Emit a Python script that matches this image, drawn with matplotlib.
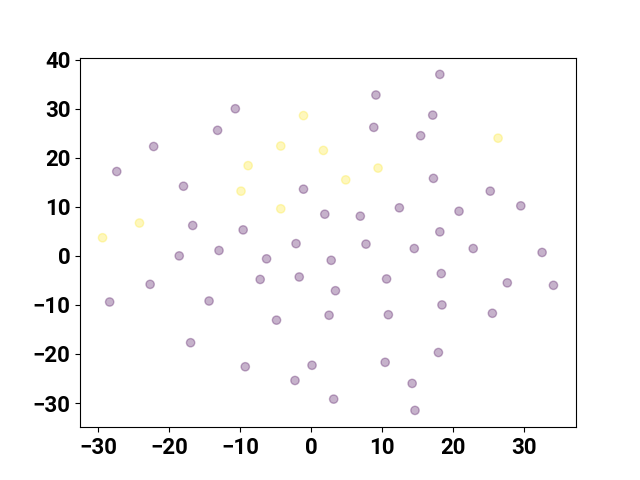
import matplotlib
matplotlib.use("Agg")
import matplotlib.pyplot as plt
import numpy as np

plt.rcParams['font.family'] = ['Roboto', 'DejaVu Sans']
plt.rcParams['font.weight'] = 'bold'
plt.rcParams['font.size'] = 16

yellow_x = [-1.1, -4.3, 1.7, -8.9, -9.9, -4.3, -24.2, -29.4, 26.3, 9.4, 4.85]
yellow_y = [28.6, 22.4, 21.5, 18.4, 13.2, 9.6, 6.7, 3.7, 24.0, 17.9, 15.5]

purple_x = [-10.7, -13.2, -22.2, -27.4, -18.0, -1.1, 1.9, -16.7, -9.6, -2.15,
            18.1, 9.1, 17.1, 8.8, 15.4, 17.2, 25.2, 29.5, 20.8, 12.4, 6.9, 18.1, 7.7,
            -18.6, -13.0, -6.3, 2.8, -22.7, -7.2, -1.7, -28.4, -14.4, 2.5, -4.9,
            -17.0, -9.3, 0.1, -2.3, 3.15,
            14.5, 22.8, 32.5, 10.6, 18.3, 27.6, 34.1, 3.4, 18.4, 10.85, 25.5,
            17.9, 10.4, 14.2, 14.6]
purple_y = [30.0, 25.6, 22.3, 17.2, 14.2, 13.6, 8.5, 6.2, 5.3, 2.5,
            37.0, 32.8, 28.7, 26.2, 24.5, 15.8, 13.2, 10.2, 9.1, 9.8, 8.1, 4.9, 2.4,
            0.0, 1.1, -0.6, -0.9, -5.8, -4.8, -4.3, -9.4, -9.2, -12.1, -13.1,
            -17.7, -22.6, -22.3, -25.4, -29.2,
            1.5, 1.5, 0.7, -4.7, -3.6, -5.5, -6.0, -7.1, -10.0, -12.0, -11.7,
            -19.7, -21.7, -26.0, -31.5]

x = np.array(purple_x + yellow_x)
y = np.array(purple_y + yellow_y)
labels = np.array([0] * len(purple_x) + [1] * len(yellow_x))

fig, ax = plt.subplots(figsize=(6.4, 4.8), dpi=100)
ax.scatter(x, y, c=labels, cmap='viridis', alpha=0.3)
fig.savefig('out.png')
